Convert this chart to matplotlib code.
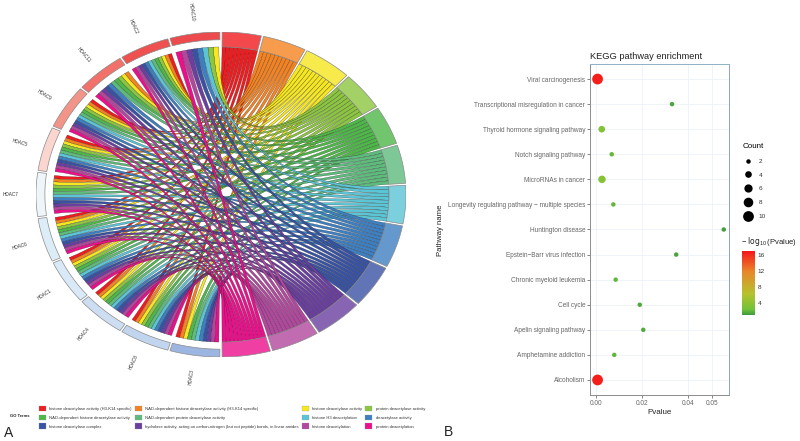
import numpy as np
import matplotlib
matplotlib.use("Agg")
import matplotlib.pyplot as plt
from matplotlib.path import Path
from matplotlib.patches import PathPatch, Patch
from matplotlib.colors import LinearSegmentedColormap, Normalize
from matplotlib.cm import ScalarMappable
from matplotlib.lines import Line2D

plt.rcParams['font.family'] = ['Liberation Sans', 'DejaVu Sans']
plt.rcParams['mathtext.default'] = 'regular'

genes = ['HDAC10', 'HDAC2', 'HDAC11', 'HDAC9', 'HDAC5', 'HDAC7', 'HDAC6', 'HDAC1', 'HDAC4', 'HDAC8', 'HDAC3']
gene_colors = ['#EC4A4C', '#EE5150', '#F2716A', '#F39488', '#FBD6D0', '#EEF6FA', '#DDEDF8', '#D9E9F7', '#CDDEF2', '#C2D5EF', '#9DB5E1']
terms = ['histone deacetylase activity (H3-K14 specific)',
         'NAD-dependent histone deacetylase activity (H3-K14 specific)',
         'histone deacetylase activity',
         'protein deacetylase activity',
         'NAD-dependent histone deacetylase activity',
         'NAD-dependent protein deacetylase activity',
         'histone H3 deacetylation',
         'deacetylase activity',
         'histone deacetylase complex',
         'hydrolase activity, acting on carbon-nitrogen (but not peptide) bonds, in linear amides',
         'histone deacetylation',
         'protein deacetylation']
term_colors = ['#F01B1F', '#F58220', '#F6E71E', '#8CC63F', '#4DB848', '#5DBB7C',
               '#5BC5D5', '#3E7FC1', '#3953A4', '#6A3FA0', '#B2479E', '#EC0F8C']
# gene -> indices of terms it does NOT link to
missing = {'HDAC10': [0, 1, 4, 5], 'HDAC11': [0, 6], 'HDAC3': [3]}

pathways = ['Alcoholism', 'Amphetamine addiction', 'Apelin signaling pathway', 'Cell cycle',
            'Chronic myeloid leukemia', 'Epstein\u2212Barr virus infection', 'Huntington disease',
            'Longevity regulating pathway \u2212 multiple species', 'MicroRNAs in cancer',
            'Notch signaling pathway', 'Thyroid hormone signaling pathway',
            'Transcriptional misregulation in cancer', 'Viral carcinogenesis']
pvalues = [0.0008, 0.0080, 0.0205, 0.0190, 0.0086, 0.0347, 0.0552, 0.0076, 0.0027, 0.0069, 0.0026, 0.0329, 0.0008]
counts = [10, 2, 2, 2, 2, 2, 2, 2, 5, 2, 4, 2, 10]
neglog = [16.6, 2.1, 1.7, 1.7, 2.1, 1.5, 1.3, 2.1, 3.6, 2.2, 3.4, 1.5, 16.6]
count_levels = [2, 4, 6, 8, 10]
cbar_ticks = [4, 8, 12, 16]
xticks = [0.00, 0.02, 0.04, 0.05]

W, H = 800, 441
fig = plt.figure(figsize=(W / 100, H / 100), dpi=100)

def axes_px(x0, y0, x1, y1):
    return fig.add_axes([x0 / W, 1 - y1 / H, (x1 - x0) / W, (y1 - y0) / H])

# ---------- Panel A: chord ----------
ax = axes_px(36, 32, 406, 357)
ax.set_xlim(-1, 1); ax.set_ylim(-1, 1); ax.axis('off')

R_IN = 0.908
GENE_IN = 0.952
PAD = 0.35
GENE_RIBBON_PAD = 0.75

def pt(deg, r):
    a = np.radians(deg)
    return np.array([r * np.sin(a), r * np.cos(a)])

def arc(d0, d1, r, n=8):
    return [pt(d, r) for d in np.linspace(d0, d1, n)]

def band(d0, d1, r0, r1, color, alpha=1.0):
    verts = arc(d0, d1, r1, 24) + arc(d1, d0, r0, 24)
    verts.append(verts[0])
    codes = [Path.MOVETO] + [Path.LINETO] * (len(verts) - 2) + [Path.CLOSEPOLY]
    ax.add_patch(PathPatch(Path(verts, codes), facecolor=matplotlib.colors.to_rgba(color, alpha),
                           edgecolor='#8a8a8a', lw=0.5, zorder=5))

links = {g: [i for i in range(len(terms)) if i not in missing.get(g, [])] for g in genes}
term_links = [[g for g in genes if t in links[g]] for t in range(len(terms))]
total = sum(len(v) for v in term_links)
deg_per_link = 180 / total
gene_span = 180 / len(genes)

pos = 0.0
term_edges = []
for t in range(len(terms)):
    span = len(term_links[t]) * deg_per_link
    term_edges.append((pos, pos + span))
    band(pos + PAD, pos + span - PAD, R_IN, 1.0, term_colors[t], 0.8)
    pos += span

gene_edges = {}
for i, g in enumerate(genes):
    hi = 360 - i * gene_span
    lo = hi - gene_span
    gene_edges[g] = (lo, hi)
    band(lo + PAD, hi - PAD, GENE_IN, 1.0, gene_colors[i])
    mid = (lo + hi) / 2
    x, y = pt(mid, 1.135)
    ax.text(x, y, g, fontsize=3.4, ha='center', va='center', color='#333333',
            rotation=(360 - mid) - 90, rotation_mode='anchor')

K = 0.40
L = 0.20
for t in range(len(terms)):
    t0, t1 = term_edges[t]
    t0 += PAD; t1 -= PAD
    w = (t1 - t0) / len(term_links[t])
    for j, g in enumerate(term_links[t]):
        b0 = t0 + j * w
        b1 = b0 + w
        lo, hi = gene_edges[g]
        lo += GENE_RIBBON_PAD; hi -= GENE_RIBBON_PAD
        n = len(links[g])
        gw = (hi - lo) / n
        k = links[g].index(t)
        a1 = hi - k * gw
        a0 = a1 - gw
        A0, A1, B0, B1 = pt(a0, R_IN), pt(a1, R_IN), pt(b0, R_IN), pt(b1, R_IN)
        MA = pt((a0 + a1) / 2, R_IN)
        MB = pt((b0 + b1) / 2, R_IN)
        verts = arc(a0, a1, R_IN, 4)
        codes = [Path.MOVETO] + [Path.LINETO] * 3
        verts += [K * MA + L * (A1 - MA), K * MB + L * (B0 - MB), B0]
        codes += [Path.CURVE4] * 3
        verts += arc(b0, b1, R_IN, 4)[1:]
        codes += [Path.LINETO] * 3
        verts += [K * MB + L * (B1 - MB), K * MA + L * (A0 - MA), A0]
        codes += [Path.CURVE4] * 3
        ax.add_patch(PathPatch(Path(verts, codes), facecolor=term_colors[t], edgecolor='#222222',
                               lw=0.18, zorder=2))

fig.text(4 / W, 1 - 433 / H, 'A', fontsize=10, va='center', ha='left', color='#222222')
fig.text(448 / W, 1 - 432 / H, 'B', fontsize=10, va='center', ha='center', color='#222222')
fig.text(10 / W, 1 - 416 / H, 'GO Terms', fontsize=3, fontweight='bold', va='center', color='#222222')

handles = [Patch(facecolor=c, edgecolor='#999999', lw=0.2, label=l) for c, l in zip(term_colors, terms)]
order = [0, 4, 8, 1, 5, 9, 2, 6, 10, 3, 7, 11]
fig.legend([handles[i] for i in order], [terms[i] for i in order], ncol=4, frameon=False, fontsize=3.0,
           loc='lower left', bbox_to_anchor=(39 / W, 1 - 429 / H), borderaxespad=0, borderpad=0,
           handlelength=1.7, handleheight=1.7, handletextpad=0.8, columnspacing=0.7, labelspacing=0.78,
           labelcolor='#333333')

# ---------- Panel B: bubble ----------
bx = axes_px(590, 64, 729, 395)
cmap = LinearSegmentedColormap.from_list('gr', [(0, '#3F9A3F'), (0.09, '#72C238'), (0.33, '#B5C22E'),
                                                (0.68, '#E8872A'), (1, '#F5161A')])
norm = Normalize(1.1, 17)

def area(c):
    return 0.5184 * (12 * np.asarray(c, dtype=float) - 4)

ypos = np.arange(len(pathways))
bx.scatter(pvalues, ypos, s=area(counts), c=neglog, cmap=cmap, norm=norm, linewidths=0, zorder=3)
bx.set_xlim(-0.00246, 0.05746)
bx.set_ylim(-0.6, 12.6)
bx.set_yticks(ypos, pathways)
bx.set_xticks(xticks, [f'{v:.2f}' for v in xticks])
bx.tick_params(labelsize=4.7, labelcolor='#666666', length=2, width=0.5, color='#555555', pad=1.5)
bx.grid(True, color='#EDF3FA', lw=0.6)
bx.set_axisbelow(True)
for s, c in zip(['left', 'bottom', 'top', 'right'], ['#8C8C8C', '#8C8C8C', '#8FB0C4', '#8FA6B4']):
    bx.spines[s].set_color(c); bx.spines[s].set_linewidth(0.7)
bx.set_title('KEGG pathway enrichment', fontsize=6.7, loc='left', pad=3.5, color='#222222')
bx.set_xlabel('Pvalue', fontsize=5.8, labelpad=1.5, color='#222222')
fig.text(441 / W, 1 - 230 / H, 'Pathway name', rotation=90, fontsize=5.6, ha='center', va='center', color='#222222')

size_handles = [Line2D([], [], ls='', marker='o', color='black', markeredgewidth=0,
                       markersize=float(np.sqrt(area(c))), label=str(c)) for c in count_levels]
leg = bx.legend(handles=size_handles, title='Count', loc='upper left', bbox_to_anchor=(743 / W, 1 - 143 / H),
                bbox_transform=fig.transFigure, frameon=False, fontsize=4.6, title_fontsize=5.8,
                labelspacing=1.3, handletextpad=0.9, borderaxespad=0, borderpad=0, handlelength=1.5,
                labelcolor='#333333')
leg._legend_box.align = 'left'

cax = axes_px(742, 251, 755, 315)
cb = fig.colorbar(ScalarMappable(norm=norm, cmap=cmap), cax=cax, ticks=cbar_ticks)
cb.outline.set_visible(False)
cb.ax.tick_params(length=0, labelsize=4.6, labelcolor='#333333', pad=2)
fig.text(741 / W, 1 - 241 / H, r'$-$ $\log_{10}$(Pvalue)', fontsize=5.5, va='center', ha='left', color='#222222')

fig.savefig('out.png', dpi=100)
